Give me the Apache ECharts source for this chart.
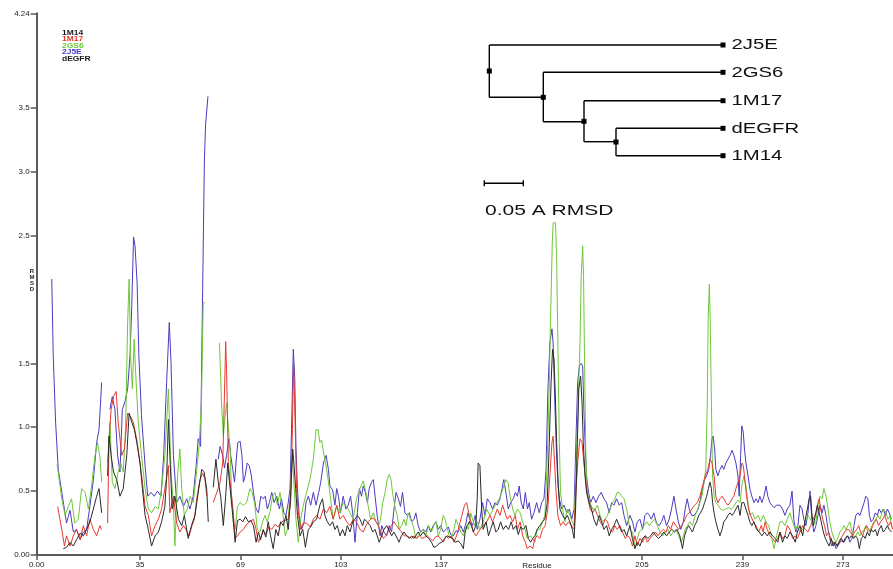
<!DOCTYPE html>
<html><head><meta charset="utf-8">
<script src="https://cdn.jsdelivr.net/npm/echarts@6/dist/echarts.min.js"></script>
<style>html,body{margin:0;padding:0;background:#fff}#c{width:893px;height:569px}</style>
</head><body><div id="c"></div><script>
// ---- tick values & labels ----
const yTicks = [0, 0.5, 1, 1.5, 2.5, 3, 3.5, 4.24];
const yTickLabels = ['0.00', '0.5', '1.0', '1.5', '2.5', '3.0', '3.5', '4.24'];
const xTicks = [0, 35, 69, 103, 137, 205, 239, 273];
const xTickLabels = ['0.00', '35', '69', '103', '137', '205', '239', '273'];
const legendNames = ['1M14', '1M17', '2GS6', '2J5E', 'dEGFR'];
const treeLeaves = ['2J5E', '2GS6', '1M17', 'dEGFR', '1M14'];

// ---- RMSD per residue ([residue, rmsd]; '-' = gap) ----
const rmsd_2J5E = [
[5.1,2.16],[5.6,1.56],[6.4,1.04],[7.3,0.67],[8.5,0.49],[10.1,0.25],[11.3,0.35],[12.4,0.18],[13.5,0.20],[14.7,0.12],[15.8,0.18],[16.9,0.20],[18.0,0.38],[19.2,0.59],[20.3,0.88],[21.1,0.98],[22.0,1.35],
[23.4,'-'],
[24.8,1.14],[25.6,1.24],[26.5,1.14],[27.4,0.78],[28.2,0.65],[29.0,1.14],[29.9,1.20],[30.8,1.30],[31.6,1.56],[32.2,1.95],[32.8,2.49],[33.3,2.42],[34.0,2.13],[34.6,1.56],[35.5,1.09],[36.7,0.70],[37.6,0.46],[38.7,0.49],[39.8,0.46],[40.9,0.50],[42.1,0.46],[43.0,0.78],[44.0,1.35],[44.9,1.82],[45.5,1.50],[46.3,0.78],[47.4,0.41],[48.5,0.46],[49.7,0.38],[50.8,0.44],[51.9,0.36],[53.0,0.46],[54.0,0.70],[54.7,0.91],[55.5,0.85],[56.2,2.08],[56.8,3.10],[57.2,3.37],[58.0,3.59],
[59.8,'-'],
[61.5,0.75],[62.1,0.85],[63.0,0.78],[63.6,0.68],[64.3,0.78],[65.1,0.91],[65.7,0.78],[66.4,0.67],[67.0,0.57],[67.5,0.72],[68.1,0.88],[68.9,0.89],[69.5,0.78],[70.0,0.57],[70.6,0.62],[71.3,0.72],[72.0,0.70],[72.7,0.62],[73.4,0.49],[74.3,0.36],[75.1,0.33],[75.9,0.46],[76.7,0.44],[77.4,0.46],[78.1,0.36],[78.8,0.41],[79.6,0.49],[80.4,0.41],[81.3,0.46],[82.2,0.36],[82.9,0.44],[83.7,0.33],[84.4,0.31],[85.2,0.41],[85.8,0.52],[86.3,0.98],[86.9,1.61],[87.4,1.38],[87.8,0.85],[88.3,0.52],[88.9,0.31],[89.7,0.20],[90.5,0.25],[91.2,0.41],[92.0,0.46],[92.8,0.39],[93.7,0.49],[94.6,0.39],[95.5,0.49],[96.2,0.57],[97.1,0.72],[98.0,0.78],[98.8,0.67],[99.3,0.54],
[100.2,0.51],[101.0,0.39],[101.6,0.52],[102.2,0.46],[102.9,0.33],[103.8,0.46],[104.7,0.36],[105.5,0.39],[106.3,0.46],[107.0,0.33],[107.8,0.10],[108.6,0.33],[109.3,0.52],[110.0,0.46],[110.6,0.54],[111.3,0.49],[112.0,0.41],[112.6,0.52],[113.4,0.57],[114.0,0.59],[114.6,0.46],[115.3,0.31],[116.3,0.15],[116.9,0.23],[117.6,0.18],[118.5,0.15],[119.4,0.23],[120.2,0.18],[121.0,0.36],[121.7,0.49],[122.5,0.44],[123.2,0.38],[123.9,0.49],[124.7,0.33],[125.5,0.31],[126.2,0.33],[127.0,0.26],[127.8,0.28],[128.4,0.33],[129.2,0.23],[130.0,0.18],[130.9,0.20],[131.8,0.18],[132.6,0.23],[133.4,0.18],[134.3,0.23],[135.2,0.26],[136.0,0.20],[136.8,0.23],[137.7,0.18],[138.6,0.20],[139.4,0.22],[140.2,0.16],[141.1,0.15],[142.0,0.19],[142.8,0.18],[143.6,0.23],[144.5,0.18],[145.4,0.25],[146.0,0.33],[146.7,0.28],[147.6,0.23],[148.5,0.31],[149.2,0.20],[150.1,0.28],
[151.0,0.41],[151.8,0.31],[152.6,0.44],[153.5,0.41],[154.4,0.36],[155.2,0.41],[156.0,0.39],[156.9,0.44],[157.6,0.52],[158.2,0.59],[158.9,0.49],[159.7,0.36],[160.5,0.41],[161.4,0.44],[162.1,0.49],[162.8,0.46],[163.4,0.54],[164.1,0.41],[164.8,0.36],[165.5,0.49],[166.2,0.36],[166.8,0.41],[167.6,0.28],[168.4,0.33],[169.3,0.41],[170.2,0.33],[171.0,0.41],[171.8,0.44],[172.5,0.67],[173.1,1.27],[173.8,1.66],[174.5,1.77],[174.9,1.66],[175.4,1.25],[175.9,0.88],[176.4,0.62],[177.0,0.44],[177.8,0.36],[178.6,0.39],[179.5,0.33],[180.4,0.36],[181.2,0.28],[182.0,0.36],[182.6,0.88],[183.2,1.35],[183.8,1.48],[184.4,1.50],[184.9,1.48],[185.3,1.14],[185.8,0.83],[186.2,0.62],[186.9,0.49],[187.6,0.41],[188.5,0.46],[189.4,0.41],[190.3,0.46],[191.2,0.49],[192.1,0.44],[193.0,0.41],[193.9,0.33],[194.7,0.41],[195.5,0.39],[196.4,0.44],[197.3,0.39],[198.1,0.41],[198.9,0.31],[199.8,0.23],[200.9,0.31],
[201.8,0.26],[202.6,0.18],[203.4,0.26],[204.3,0.28],[205.2,0.20],[206.0,0.31],[206.8,0.33],[207.5,0.31],[208.2,0.28],[209.0,0.33],[209.9,0.25],[210.8,0.23],[211.6,0.26],[212.4,0.31],[213.3,0.23],[214.2,0.28],[215.0,0.36],[215.8,0.46],[216.5,0.36],[217.3,0.26],[218.1,0.20],[219.0,0.26],[219.6,0.36],[220.3,0.44],[221.0,0.36],[221.8,0.31],[222.6,0.31],[223.3,0.33],[224.0,0.36],[224.8,0.44],[225.5,0.52],[226.2,0.59],[226.9,0.62],[227.6,0.67],[228.2,0.78],[228.7,0.91],[229.1,0.93],[229.6,0.83],[230.0,0.67],[230.7,0.62],[231.4,0.67],[232.1,0.70],[232.7,0.67],[233.4,0.72],[234.1,0.75],[234.8,0.78],[235.5,0.82],[236.1,0.78],[236.8,0.72],[237.5,0.62],[237.9,0.46],[238.4,0.78],[238.8,1.01],[239.3,0.96],[239.7,0.83],[240.2,0.72],[240.9,0.62],[241.5,0.52],[242.2,0.46],[242.9,0.41],[243.6,0.44],[244.3,0.41],[244.9,0.46],[245.6,0.41],[246.3,0.46],[247.0,0.54],[247.6,0.46],[248.3,0.41],[249.0,0.39],[249.7,0.37],[250.6,0.39],[251.7,0.39],
[252.6,0.36],[253.4,0.31],[254.2,0.36],[255.1,0.39],[255.8,0.50],[256.4,0.28],[257.1,0.18],[257.8,0.23],[258.5,0.39],[259.2,0.36],[259.8,0.28],[260.5,0.23],[261.2,0.33],[261.9,0.50],[262.5,0.28],[263.2,0.18],[263.9,0.23],[264.6,0.31],[265.3,0.39],[266.0,0.33],[266.6,0.39],[267.3,0.31],[268.0,0.20],[268.6,0.13],[269.3,0.07],[270.0,0.10],[270.7,0.05],[271.3,0.07],[272.0,0.10],[272.7,0.11],[273.4,0.10],[274.1,0.13],[274.7,0.15],[275.4,0.10],[276.1,0.13],[276.8,0.23],[277.4,0.31],[278.1,0.33],[278.8,0.31],[279.5,0.36],[280.2,0.41],[280.8,0.46],[281.5,0.44],[282.0,0.31],[282.6,0.26],[283.3,0.28],[284.0,0.33],[284.7,0.31],[285.3,0.36],[286.0,0.33],[286.7,0.36],[287.4,0.31],[288.1,0.36],[288.7,0.33],[289.5,0.28]
];

const rmsd_2GS6 = [
[6.9,0.71],[7.1,0.70],[8.5,0.44],[9.6,0.31],[10.7,0.38],[11.8,0.44],[12.9,0.25],[14.1,0.28],[15.2,0.52],[16.4,0.49],[17.5,0.36],[18.6,0.54],[19.7,0.77],[20.6,0.88],[21.4,0.77],[22.0,0.57],
[23.0,'-'],
[24.0,0.72],[24.8,1.04],[25.6,0.57],[26.5,0.52],[27.6,0.65],[28.5,0.72],[29.3,0.65],[30.1,0.98],[30.8,1.82],[31.3,2.16],[31.8,1.56],[32.4,1.30],[33.0,1.69],[33.5,1.43],[34.4,1.04],[35.5,0.78],[36.7,0.52],[37.8,0.36],[38.9,0.33],[40.1,0.38],[41.2,0.36],[42.3,0.52],[43.4,0.78],[44.6,1.30],[45.5,0.65],[46.3,0.39],[46.8,0.07],[47.7,0.62],[48.5,0.83],[49.1,0.52],[50.0,0.31],[51.0,0.36],[52.0,0.46],[53.0,0.41],[54.0,0.62],[55.0,0.85],[55.8,1.20],[56.4,1.97],[57.0,1.98],
[59.0,'-'],
[61.9,1.66],[62.6,1.19],[63.2,0.93],[63.7,1.06],[64.3,1.19],[64.9,1.00],[65.5,0.83],[66.0,0.46],[66.6,0.26],[67.2,0.20],[68.0,0.38],[68.9,0.41],[70.0,0.39],[71.1,0.41],[72.2,0.52],[73.0,0.49],[73.9,0.39],[74.7,0.20],[75.6,0.18],[76.5,0.26],[77.3,0.31],[78.1,0.26],[79.0,0.34],[79.9,0.46],[80.7,0.49],[81.5,0.39],[82.4,0.49],[83.3,0.33],[84.2,0.15],[84.9,0.20],[85.8,0.46],[86.6,0.78],[87.1,0.57],[87.8,0.28],[88.6,0.10],[89.4,0.28],[90.3,0.39],[91.4,0.49],[92.6,0.60],[93.7,0.75],[94.6,0.98],[95.3,0.98],[95.9,0.88],[96.5,0.90],[97.3,0.78],[98.2,0.67],[99.1,0.52],
[100.4,0.28],[101.6,0.38],[102.7,0.33],[103.8,0.41],[105.0,0.38],[106.1,0.33],[107.2,0.28],[108.3,0.44],[109.5,0.52],[110.6,0.58],[111.5,0.49],[112.3,0.38],[113.1,0.28],[114.0,0.33],[114.9,0.26],[115.7,0.23],[116.3,0.26],[117.2,0.41],[118.0,0.49],[118.7,0.59],[119.4,0.63],[120.0,0.59],[120.5,0.49],[121.3,0.38],[122.1,0.31],[122.8,0.20],[123.6,0.23],[124.4,0.28],[125.1,0.23],[125.8,0.33],[126.6,0.28],[127.5,0.23],[128.4,0.13],[129.2,0.15],[130.0,0.18],[130.9,0.20],[131.8,0.15],[132.7,0.23],[133.7,0.18],[134.5,0.23],[135.2,0.26],[136.0,0.15],[136.8,0.20],[137.7,0.31],[138.3,0.28],[138.8,0.23],[139.7,0.15],[140.5,0.13],[141.3,0.20],[142.0,0.28],[142.8,0.23],[143.6,0.18],[144.5,0.15],[145.4,0.23],[146.2,0.20],[147.0,0.33],[147.6,0.28],[148.4,0.23],[149.2,0.26],[150.1,0.20],
[151.2,0.26],[152.4,0.36],[153.5,0.31],[154.6,0.36],[155.8,0.41],[156.7,0.44],[157.5,0.49],[158.2,0.54],[158.9,0.59],[159.6,0.57],[160.3,0.46],[161.2,0.36],[162.0,0.31],[162.8,0.36],[163.7,0.33],[164.6,0.26],[165.4,0.20],[166.1,0.13],[167.1,0.15],[168.0,0.13],[168.7,0.10],[169.5,0.20],[170.4,0.20],[171.3,0.26],[172.1,0.31],[172.7,0.62],[173.4,1.14],[174.1,1.92],[174.6,2.44],[174.9,2.60],[175.7,2.60],[176.1,2.31],[176.5,1.66],[177.0,0.88],[177.4,0.49],[178.1,0.36],[178.9,0.26],[179.7,0.36],[180.6,0.31],[181.4,0.26],[182.0,0.23],[182.6,0.62],[183.3,1.14],[184.0,1.66],[184.4,2.18],[184.9,2.42],[185.2,2.18],[185.6,1.40],[186.0,0.75],[186.5,0.49],[187.4,0.41],[188.3,0.36],[189.1,0.36],[189.9,0.39],[190.8,0.31],[191.7,0.26],[192.5,0.28],[193.3,0.31],[194.1,0.36],[195.1,0.41],[195.8,0.44],[196.6,0.49],[197.3,0.49],[198.1,0.46],[198.9,0.44],[199.8,0.36],[200.9,0.20],
[201.8,0.18],[202.6,0.05],[203.4,0.13],[204.1,0.18],[204.9,0.20],[205.7,0.23],[206.6,0.26],[207.5,0.23],[208.4,0.26],[209.3,0.28],[210.2,0.23],[211.1,0.18],[212.0,0.15],[212.9,0.18],[213.8,0.20],[214.7,0.15],[215.6,0.18],[216.5,0.20],[217.4,0.15],[218.3,0.10],[219.0,0.15],[219.6,0.20],[220.3,0.23],[221.2,0.26],[222.1,0.23],[223.0,0.31],[223.9,0.36],[224.6,0.41],[225.3,0.46],[226.0,0.57],[226.6,0.67],[227.1,1.19],[227.4,1.84],[227.8,2.12],[228.1,1.84],[228.5,1.19],[228.9,0.62],[229.4,0.46],[230.0,0.41],[230.8,0.39],[231.6,0.36],[232.5,0.35],[233.4,0.36],[234.3,0.37],[235.2,0.36],[236.1,0.38],[236.8,0.41],[237.5,0.43],[238.2,0.41],[238.8,0.54],[239.5,0.62],[240.2,0.54],[240.9,0.41],[241.5,0.31],[242.4,0.33],[243.3,0.28],[244.3,0.31],[245.2,0.26],[246.1,0.31],[247.0,0.26],[247.9,0.23],[248.8,0.15],[249.7,0.05],[250.6,0.15],[251.7,0.26],
[252.6,0.26],[253.4,0.23],[254.2,0.28],[255.1,0.33],[256.0,0.26],[256.9,0.20],[257.6,0.23],[258.5,0.18],[259.4,0.20],[260.3,0.26],[261.2,0.31],[262.1,0.28],[263.0,0.23],[263.9,0.26],[264.6,0.39],[265.3,0.46],[266.0,0.44],[266.6,0.52],[267.3,0.46],[268.0,0.36],[268.6,0.26],[269.3,0.18],[270.0,0.13],[270.7,0.10],[271.3,0.13],[272.0,0.18],[272.7,0.20],[273.4,0.23],[274.1,0.20],[274.7,0.23],[275.4,0.26],[276.1,0.18],[276.8,0.13],[277.4,0.15],[278.1,0.18],[278.8,0.15],[279.5,0.18],[280.2,0.20],[280.8,0.23],[281.5,0.18],[282.2,0.20],[282.9,0.23],[283.5,0.26],[284.2,0.28],[284.9,0.31],[285.6,0.28],[286.2,0.33],[286.9,0.36],[287.6,0.33],[288.3,0.28],[289.0,0.31],[289.5,0.23]
];

const rmsd_1M17 = [
[7.1,0.38],[8.5,0.20],[9.4,0.07],[10.1,0.15],[11.3,0.07],[12.4,0.15],[13.5,0.20],[14.7,0.12],[15.8,0.23],[16.9,0.15],[18.0,0.28],[19.2,0.20],[20.3,0.15],[21.4,0.23],[22.0,0.20],
[23.0,'-'],
[24.0,0.25],[24.5,0.90],[25.2,1.14],[26.0,1.24],[26.9,1.28],[27.6,1.04],[28.8,0.78],[29.7,0.83],[30.8,1.11],[31.6,1.09],[32.7,1.04],[33.9,0.90],[35.0,0.72],[35.8,0.57],[36.7,0.38],[37.8,0.31],[38.9,0.15],[40.1,0.23],[41.2,0.28],[42.3,0.36],[43.4,0.52],[44.6,0.70],[45.1,0.33],[46.3,0.46],[47.4,0.25],[48.5,0.18],[49.7,0.23],[50.5,0.20],[51.6,0.15],[52.6,0.23],[53.4,0.28],[54.2,0.44],[55.3,0.59],[56.2,0.64],[57.0,0.59],[57.6,0.46],
[58.7,'-'],
[59.8,0.41],[61.0,0.49],[62.1,0.57],[63.0,0.72],[63.7,1.37],[64.0,1.67],[64.3,1.45],[64.9,0.72],[65.5,0.57],[66.0,0.57],[66.6,0.33],[67.2,0.13],[68.0,0.15],[68.9,0.18],[70.0,0.20],[71.1,0.24],[72.2,0.26],[73.4,0.28],[74.3,0.20],[75.1,0.10],[75.9,0.14],[76.8,0.19],[77.7,0.16],[78.6,0.22],[79.6,0.20],[80.7,0.24],[81.8,0.22],[82.9,0.26],[84.0,0.27],[85.2,0.28],[86.0,0.41],[86.6,0.98],[87.0,1.50],[87.5,1.06],[88.0,0.52],[88.7,0.31],[89.4,0.20],[90.3,0.25],[91.4,0.25],[92.6,0.22],[93.7,0.28],[94.8,0.31],[95.9,0.28],[97.1,0.36],[98.2,0.33],[99.3,0.38],
[100.4,0.28],[101.6,0.39],[102.7,0.28],[103.8,0.31],[105.0,0.26],[106.1,0.23],[107.2,0.28],[108.3,0.26],[109.5,0.20],[110.6,0.18],[111.5,0.23],[112.3,0.26],[113.1,0.28],[114.0,0.29],[114.9,0.26],[115.7,0.23],[116.5,0.18],[117.4,0.13],[118.3,0.15],[119.2,0.19],[120.1,0.23],[121.0,0.26],[121.9,0.23],[122.8,0.20],[123.6,0.18],[124.4,0.15],[125.3,0.15],[126.2,0.14],[127.0,0.13],[127.8,0.15],[128.7,0.13],[129.6,0.15],[130.5,0.13],[131.4,0.14],[132.3,0.15],[133.2,0.13],[134.1,0.11],[135.0,0.14],[135.9,0.15],[136.8,0.13],[137.7,0.10],[138.6,0.15],[139.5,0.13],[140.4,0.15],[141.3,0.10],[142.2,0.15],[143.1,0.23],[144.0,0.31],[144.9,0.39],[145.6,0.41],[146.3,0.33],[147.0,0.26],[147.9,0.18],[148.8,0.15],[149.6,0.18],[150.1,0.20],
[151.2,0.23],[152.4,0.26],[153.5,0.31],[154.4,0.26],[155.2,0.31],[156.0,0.36],[156.9,0.31],[157.8,0.39],[158.6,0.33],[159.4,0.28],[160.3,0.31],[161.2,0.26],[162.1,0.31],[162.8,0.20],[163.7,0.26],[164.6,0.15],[165.5,0.10],[166.1,0.05],[167.1,0.07],[168.0,0.05],[168.7,0.13],[169.5,0.15],[170.4,0.13],[171.3,0.20],[172.2,0.23],[173.1,0.36],[173.8,0.62],[174.5,0.88],[174.9,0.93],[175.4,0.72],[175.9,0.49],[176.5,0.31],[177.4,0.23],[178.3,0.26],[179.2,0.23],[180.1,0.26],[181.1,0.23],[182.0,0.20],[182.6,0.49],[183.3,0.75],[184.0,0.91],[184.7,0.88],[185.3,0.72],[186.0,0.57],[186.7,0.44],[187.4,0.36],[188.3,0.33],[189.1,0.36],[189.9,0.31],[190.8,0.26],[191.7,0.23],[192.5,0.28],[193.3,0.26],[194.1,0.20],[195.0,0.18],[195.8,0.23],[196.6,0.20],[197.5,0.23],[198.4,0.18],[199.3,0.13],[200.2,0.15],
[200.9,0.13],[201.8,0.07],[202.6,0.15],[203.4,0.07],[204.3,0.13],[205.2,0.10],[206.0,0.15],[206.8,0.10],[207.7,0.13],[208.6,0.15],[209.5,0.18],[210.4,0.15],[211.3,0.18],[212.2,0.20],[213.1,0.18],[213.9,0.23],[214.7,0.20],[215.6,0.26],[216.5,0.23],[217.4,0.20],[218.3,0.23],[219.2,0.26],[220.1,0.31],[221.0,0.33],[221.9,0.36],[222.8,0.39],[223.7,0.41],[224.6,0.46],[225.5,0.54],[226.4,0.62],[227.3,0.67],[228.0,0.75],[228.7,0.72],[229.4,0.62],[230.0,0.46],[230.7,0.41],[231.4,0.44],[232.1,0.46],[232.7,0.44],[233.4,0.41],[234.1,0.39],[234.8,0.41],[235.5,0.44],[236.1,0.46],[236.8,0.52],[237.5,0.57],[238.2,0.62],[238.8,0.72],[239.3,0.70],[239.7,0.62],[240.4,0.46],[241.1,0.36],[241.8,0.31],[242.7,0.26],[243.6,0.23],[244.5,0.18],[245.4,0.23],[246.0,0.18],[246.7,0.26],[247.4,0.20],[248.3,0.15],[249.2,0.13],[250.1,0.10],[251.0,0.13],[251.7,0.18],
[252.6,0.13],[253.4,0.15],[254.2,0.23],[255.1,0.20],[256.0,0.13],[256.9,0.15],[257.6,0.13],[258.5,0.18],[259.4,0.23],[260.3,0.20],[261.2,0.18],[262.1,0.23],[263.0,0.28],[263.9,0.33],[264.6,0.41],[265.0,0.44],[265.5,0.36],[266.2,0.28],[266.8,0.23],[267.5,0.15],[268.2,0.18],[268.9,0.13],[269.5,0.10],[270.2,0.10],[270.9,0.07],[271.6,0.10],[272.3,0.13],[272.9,0.15],[273.6,0.18],[274.3,0.20],[275.0,0.20],[275.6,0.18],[276.3,0.15],[277.0,0.18],[277.7,0.20],[278.4,0.23],[279.0,0.18],[279.7,0.15],[280.4,0.20],[281.1,0.23],[281.7,0.20],[282.4,0.18],[283.1,0.23],[283.8,0.26],[284.4,0.28],[285.1,0.23],[285.8,0.26],[286.5,0.28],[287.2,0.31],[287.9,0.26],[288.5,0.23],[289.2,0.26],[289.9,0.20]
];

const rmsd_dEGFR = [
[9.0,0.05],[10.1,0.06],[11.3,0.10],[12.4,0.07],[13.5,0.12],[14.7,0.17],[15.8,0.15],[16.9,0.20],[18.0,0.26],[19.2,0.36],[20.3,0.46],[21.1,0.52],[22.0,0.33],
[23.0,'-'],
[24.0,0.62],[24.5,0.93],[25.2,0.78],[26.0,0.65],[27.1,0.59],[28.2,0.46],[29.3,0.52],[30.5,0.78],[31.3,1.11],[32.2,1.04],[33.1,0.98],[33.9,0.88],[35.0,0.72],[35.8,0.52],[36.7,0.31],[37.8,0.20],[38.9,0.07],[40.1,0.15],[41.2,0.18],[42.3,0.26],[43.4,0.38],[44.0,0.60],[44.6,1.06],[45.1,0.78],[45.9,0.36],[46.8,0.46],[48.0,0.28],[49.1,0.23],[50.0,0.31],[51.3,0.13],[52.4,0.23],[53.6,0.31],[54.7,0.49],[55.9,0.67],[56.7,0.65],[57.6,0.51],[58.1,0.26],
[59.0,'-'],
[59.8,0.53],[60.7,0.75],[61.5,0.57],[62.3,0.46],[63.2,0.23],[64.0,0.46],[64.7,0.72],[65.5,0.52],[66.4,0.31],[67.2,0.10],[68.0,0.27],[68.9,0.28],[69.8,0.26],[70.7,0.30],[71.7,0.26],[72.5,0.27],[73.4,0.23],[74.3,0.10],[75.1,0.18],[75.8,0.12],[76.7,0.20],[77.6,0.14],[78.4,0.26],[79.2,0.15],[80.1,0.05],[81.0,0.20],[81.8,0.15],[82.6,0.26],[83.5,0.23],[84.4,0.31],[85.2,0.20],[86.0,0.46],[86.7,0.83],[87.1,0.72],[87.7,0.52],[88.3,0.31],[89.2,0.15],[90.1,0.20],[91.0,0.06],[92.0,0.20],[92.8,0.22],[93.7,0.26],[94.8,0.28],[95.9,0.39],[96.8,0.44],[97.6,0.31],[98.4,0.26],[99.3,0.23],
[100.2,0.26],[101.0,0.20],[101.8,0.23],[102.7,0.15],[103.6,0.20],[104.4,0.15],[105.2,0.23],[106.1,0.18],[107.0,0.26],[107.8,0.28],[108.6,0.31],[109.5,0.28],[110.4,0.23],[111.0,0.28],[111.9,0.26],[112.9,0.23],[113.8,0.18],[114.6,0.20],[115.3,0.15],[116.0,0.10],[116.8,0.15],[117.6,0.20],[118.5,0.23],[119.4,0.19],[120.2,0.15],[121.0,0.18],[121.9,0.14],[122.7,0.10],[123.5,0.15],[124.4,0.18],[125.3,0.15],[126.2,0.13],[127.0,0.15],[127.8,0.13],[128.4,0.15],[129.2,0.18],[130.0,0.15],[130.9,0.18],[131.8,0.15],[132.7,0.13],[133.7,0.10],[134.5,0.06],[135.4,0.07],[136.3,0.09],[137.2,0.10],[138.2,0.13],[139.0,0.15],[139.9,0.14],[140.9,0.13],[141.8,0.10],[142.7,0.11],[143.6,0.09],[144.5,0.05],[145.1,0.18],[145.8,0.23],[146.5,0.26],[147.2,0.23],[147.9,0.18],[148.7,0.23],[149.2,0.45],[149.5,0.72],[150.1,0.70],
[150.7,0.36],[151.2,0.20],[152.2,0.26],[153.0,0.15],[153.7,0.20],[154.6,0.26],[155.5,0.18],[156.3,0.20],[157.1,0.26],[158.0,0.20],[158.9,0.23],[159.8,0.20],[160.7,0.26],[161.4,0.20],[162.3,0.23],[163.1,0.16],[163.9,0.22],[164.8,0.20],[165.7,0.23],[166.5,0.13],[167.3,0.10],[168.0,0.13],[168.7,0.15],[169.5,0.20],[170.4,0.23],[171.3,0.26],[172.1,0.28],[172.9,0.41],[173.6,0.88],[174.2,1.35],[174.7,1.61],[175.2,1.53],[175.6,1.27],[176.1,0.88],[176.6,0.54],[177.2,0.36],[178.1,0.31],[178.9,0.28],[179.7,0.31],[180.6,0.26],[181.4,0.20],[182.0,0.13],[182.5,0.36],[183.1,0.88],[183.6,1.30],[184.2,1.40],[184.7,1.19],[185.1,0.88],[185.7,0.62],[186.2,0.49],[187.1,0.41],[187.9,0.36],[188.7,0.28],[189.6,0.23],[190.5,0.31],[191.3,0.26],[192.1,0.20],[193.0,0.23],[193.9,0.15],[194.7,0.20],[195.5,0.23],[196.4,0.28],[197.3,0.23],[198.1,0.18],[198.9,0.20],[199.8,0.15],[200.9,0.23],
[201.8,0.12],[202.6,0.05],[203.4,0.10],[204.3,0.07],[205.2,0.13],[206.1,0.15],[207.0,0.13],[207.9,0.15],[208.8,0.18],[209.7,0.15],[210.6,0.13],[211.5,0.15],[212.4,0.18],[213.3,0.15],[214.2,0.18],[215.1,0.20],[216.0,0.18],[216.9,0.20],[217.8,0.15],[218.7,0.05],[219.4,0.15],[220.1,0.20],[220.8,0.23],[221.5,0.20],[222.1,0.18],[222.8,0.23],[223.5,0.26],[224.2,0.31],[224.8,0.33],[225.5,0.36],[226.2,0.41],[226.9,0.46],[227.5,0.52],[228.0,0.57],[228.5,0.52],[228.9,0.41],[229.4,0.33],[230.0,0.26],[230.7,0.20],[231.4,0.15],[232.1,0.20],[232.7,0.26],[233.4,0.28],[234.1,0.31],[234.8,0.33],[235.5,0.31],[236.1,0.33],[236.8,0.36],[237.5,0.39],[238.2,0.31],[238.8,0.41],[239.5,0.41],[240.2,0.36],[240.9,0.31],[241.5,0.26],[242.2,0.23],[242.9,0.26],[243.8,0.20],[244.7,0.18],[245.6,0.15],[246.5,0.18],[247.4,0.15],[248.3,0.18],[249.2,0.15],[250.1,0.13],[251.0,0.10],
[251.7,0.18],[252.6,0.10],[253.4,0.15],[254.2,0.13],[255.1,0.18],[256.0,0.15],[256.9,0.10],[257.6,0.18],[258.5,0.23],[259.4,0.15],[260.3,0.28],[261.0,0.36],[261.6,0.44],[262.1,0.46],[262.5,0.33],[263.0,0.23],[263.7,0.31],[264.4,0.39],[265.0,0.33],[265.7,0.26],[266.4,0.18],[267.1,0.13],[267.7,0.10],[268.4,0.07],[269.1,0.13],[269.8,0.07],[270.4,0.10],[271.1,0.07],[271.8,0.10],[272.5,0.13],[273.2,0.10],[273.8,0.13],[274.5,0.15],[275.2,0.13],[275.9,0.15],[276.6,0.13],[277.3,0.15],[278.0,0.13],[278.6,0.05],[279.3,0.13],[280.0,0.15],[280.6,0.13],[281.3,0.18],[282.0,0.15],[282.6,0.20],[283.3,0.18],[284.0,0.20],[284.7,0.15],[285.3,0.20],[286.0,0.23],[286.7,0.18],[287.4,0.20],[288.1,0.23],[288.7,0.20],[289.5,0.18]
];

const colors = { '1M14': '#1a1a1a', '1M17': '#e8392e', '2GS6': '#6fc83a', '2J5E': '#4b3cc0', 'dEGFR': '#1a1a1a' };
const lineColors = { '1M17': '#e8392e', '2GS6': '#6fc83a', '2J5E': '#4b3cc0', 'dEGFR': '#2a2a2a' };
const FONT = '"Liberation Sans", Arial, sans-serif';

const chart = echarts.init(document.getElementById('c'), null, { renderer: 'canvas' });

function lineSeries(name, data, z) {
  return { name, type: 'line', data, symbol: 'none', showSymbol: false, connectNulls: false,
    lineStyle: { color: lineColors[name], width: 1.0 }, itemStyle: { color: lineColors[name] },
    z, animation: false, emphasis: { disabled: true } };
}

// dendrogram geometry (decoration)
const treeStroke = { stroke: '#000', lineWidth: 1.4 };
const segs = [
  [489.3, 45, 489.3, 97.3], [489.3, 45, 723, 45], [489.3, 97.3, 543.3, 97.3],
  [543.3, 72.3, 543.3, 121.7], [543.3, 72.3, 723, 72.3], [543.3, 121.7, 584, 121.7],
  [584, 100.7, 584, 141.7], [584, 100.7, 723, 100.7], [584, 141.7, 616, 141.7],
  [616, 128.3, 616, 155.7], [616, 128.3, 723, 128.3], [616, 155.7, 723, 155.7],
  [484.3, 183.3, 523.3, 183.3], [484.3, 180.3, 484.3, 186.3], [523.3, 180.3, 523.3, 186.3]
];
const leafY = [45, 72.3, 100.7, 128.3, 155.7];
const nodes = [[489.3, 71], [543.3, 97.3], [584, 121.3], [616, 142]];
const graphics = [];
segs.forEach(s => graphics.push({ type: 'line', shape: { x1: s[0], y1: s[1], x2: s[2], y2: s[3] }, style: treeStroke, silent: true }));
nodes.forEach(n => graphics.push({ type: 'rect', shape: { x: n[0] - 2.5, y: n[1] - 2.5, width: 5, height: 5 }, style: { fill: '#000' }, silent: true }));
treeLeaves.forEach((name, i) => {
  graphics.push({ type: 'rect', shape: { x: 720.5, y: leafY[i] - 2.5, width: 5, height: 5 }, style: { fill: '#000' }, silent: true });
  graphics.push({ type: 'text', x: 731.5, y: leafY[i] + 0.5, scaleX: 1.45, scaleY: 1, silent: true,
    style: { text: name, x: 0, y: 0, fill: '#111', font: '14px ' + FONT, textVerticalAlign: 'middle', textAlign: 'left' } });
});
graphics.push({ type: 'text', x: 485, y: 211, scaleX: 1.4, silent: true,
  style: { text: '0.05 A RMSD', x: 0, y: 0, fill: '#111', font: '15px ' + FONT, textVerticalAlign: 'middle', textAlign: 'left' } });
// legend texts (top-left)
const legendY = [33, 39.5, 46, 52.5, 59];
legendNames.forEach((name, i) => {
  graphics.push({ type: 'text', x: 62, y: legendY[i], scaleX: 1.3, silent: true,
    style: { text: name, x: 0, y: 0, fill: colors[name], font: 'bold 6.5px ' + FONT, textVerticalAlign: 'middle', textAlign: 'left' } });
});
// y axis title (stacked letters)
graphics.push({ type: 'text', x: 32, y: 268.5, silent: true,
  style: { text: 'R\nM\nS\nD', x: 0, y: 0, fill: '#222', font: 'bold 6px ' + FONT, lineHeight: 5.9, textAlign: 'center', textVerticalAlign: 'top' } });
// x axis title
graphics.push({ type: 'text', x: 537, y: 566, silent: true,
  style: { text: 'Residue', x: 0, y: 0, fill: '#222', font: '8px ' + FONT, textAlign: 'center', textVerticalAlign: 'middle' } });

chart.setOption({
  backgroundColor: '#fff',
  animation: false,
  grid: { left: 36.7, right: 0, top: 13.3, bottom: 13, containLabel: false },
  xAxis: {
    type: 'value', min: 0, max: 290,
    axisLine: { show: true, onZero: false, lineStyle: { color: '#5a5a5a', width: 2 } },
    axisTick: { show: true, length: 5, customValues: xTicks, lineStyle: { color: '#5a5a5a', width: 1.5 } },
    axisLabel: { show: true, margin: 6, customValues: xTicks, fontSize: 8, fontFamily: FONT, color: '#222',
      formatter: v => { const i = xTicks.indexOf(v); return i >= 0 ? xTickLabels[i] : ''; } },
    splitLine: { show: false }
  },
  yAxis: {
    type: 'value', min: 0, max: 4.24,
    axisLine: { show: true, lineStyle: { color: '#5a5a5a', width: 2 } },
    axisTick: { show: true, length: 6, customValues: yTicks, lineStyle: { color: '#5a5a5a', width: 1.5 } },
    axisLabel: { show: true, margin: 7, customValues: yTicks, fontSize: 8, fontFamily: FONT, color: '#222',
      formatter: v => { const i = yTicks.findIndex(t => Math.abs(t - v) < 1e-6); return i >= 0 ? yTickLabels[i] : ''; } },
    splitLine: { show: false }
  },
  series: [
    lineSeries('2J5E', rmsd_2J5E, 2),
    lineSeries('2GS6', rmsd_2GS6, 3),
    lineSeries('1M17', rmsd_1M17, 4),
    lineSeries('dEGFR', rmsd_dEGFR, 5)
  ],
  graphic: graphics
});
</script></body></html>
